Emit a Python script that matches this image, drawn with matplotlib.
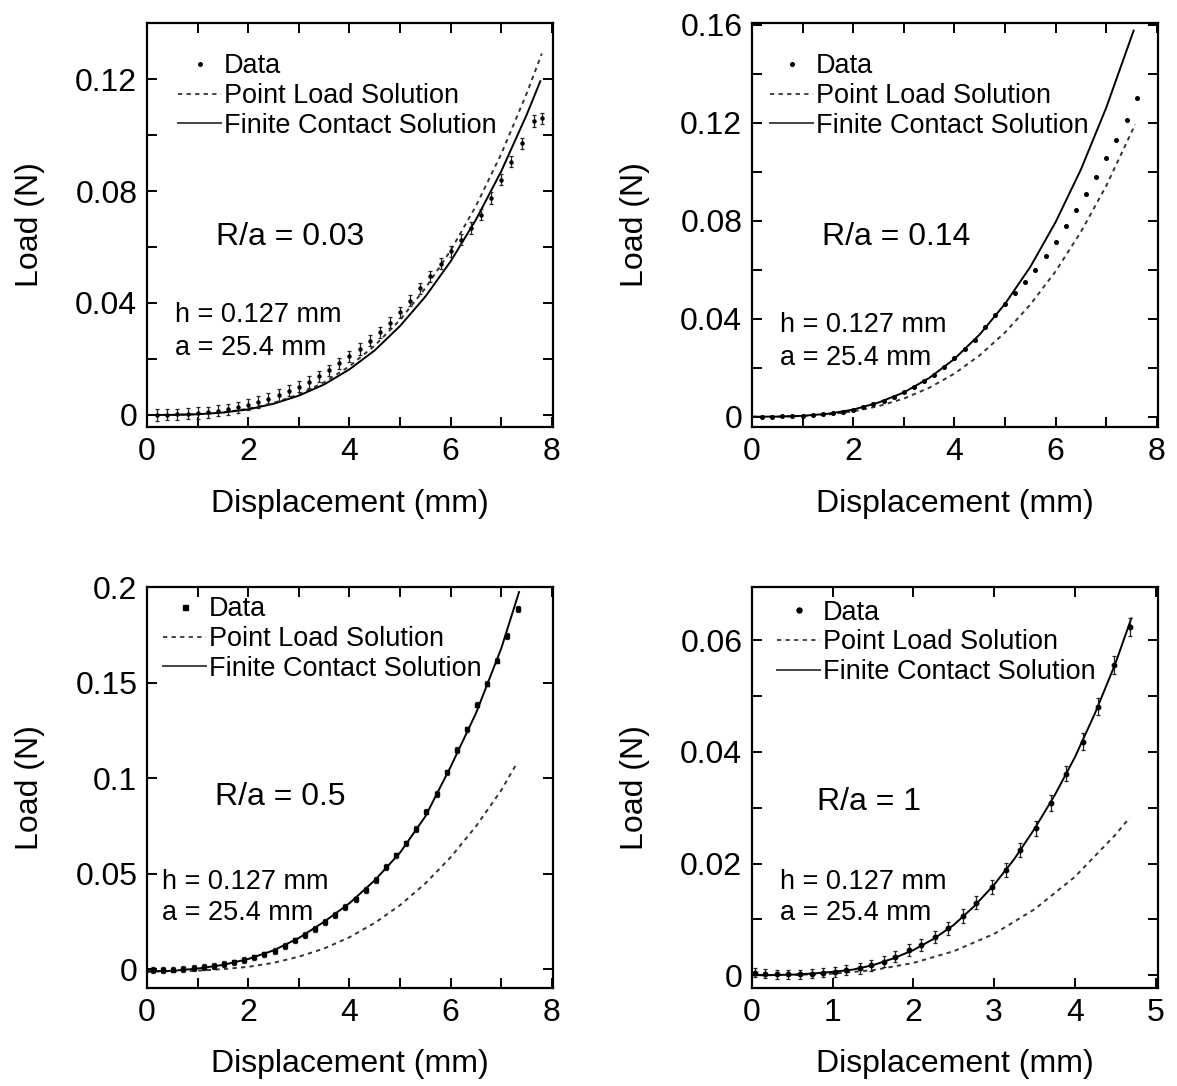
import matplotlib
matplotlib.use("Agg")
import matplotlib.pyplot as plt
from matplotlib.lines import Line2D

plt.rcParams['font.family'] = ['Liberation Sans', 'DejaVu Sans']

# ---- R/a = 0.03 ----
a_data_x = [0.2, 0.4, 0.6, 0.8, 1.0, 1.2, 1.4, 1.6, 1.8, 2.0, 2.2, 2.4, 2.6, 2.8, 3.0,
            3.2, 3.4, 3.6, 3.8, 4.0, 4.2, 4.4, 4.6, 4.8, 5.0, 5.2, 5.4, 5.6, 5.8, 6.0,
            6.2, 6.4, 6.6, 6.8, 7.0, 7.2, 7.4, 7.65, 7.8]
a_data_y = [0.0, 0.0001, 0.0002, 0.0004, 0.0007, 0.0010, 0.0015, 0.0020, 0.0027, 0.0036,
            0.0046, 0.0058, 0.0071, 0.0086, 0.0101, 0.0118, 0.0138, 0.0160, 0.0184, 0.0209,
            0.0236, 0.0265, 0.0296, 0.0330, 0.0367, 0.0408, 0.0452, 0.0495, 0.0540, 0.0584,
            0.0626, 0.0668, 0.0715, 0.0775, 0.0840, 0.0905, 0.0970, 0.1050, 0.1060]
a_err = 0.002
a_fc_x = [0, 0.5, 1, 1.5, 2, 2.5, 3, 3.5, 4, 4.5, 5, 5.5, 6, 6.5, 7, 7.5, 7.77]
a_fc_y = [0, 0.00003, 0.00025, 0.00086, 0.0020, 0.0040, 0.0069, 0.0109, 0.0163, 0.0231,
          0.0318, 0.0423, 0.0549, 0.0698, 0.0871, 0.1072, 0.1192]
a_pl_x = [0, 0.5, 1, 1.5, 2, 2.5, 3, 3.5, 4, 4.5, 5, 5.5, 6, 6.5, 7, 7.5, 7.8]
a_pl_y = [0, 0.00003, 0.00027, 0.00092, 0.0022, 0.0043, 0.0073, 0.0117, 0.0174, 0.0248,
          0.0340, 0.0453, 0.0588, 0.0747, 0.0933, 0.1148, 0.1291]

# ---- R/a = 0.14 ----
b_data_x = [0.2, 0.4, 0.6, 0.8, 1.0, 1.2, 1.4, 1.6, 1.8, 2.0, 2.2, 2.4, 2.6, 2.8, 3.0,
            3.2, 3.4, 3.6, 3.8, 4.0, 4.2, 4.4, 4.6, 4.8, 5.0, 5.2, 5.4, 5.6, 5.8, 6.0,
            6.2, 6.4, 6.6, 6.8, 7.0, 7.2, 7.4, 7.6]
b_data_y = [0.0, 0.0, 0.0001, 0.0002, 0.0004, 0.0006, 0.0010, 0.0015, 0.0021, 0.0029,
            0.0039, 0.0051, 0.0065, 0.0081, 0.0100, 0.0121, 0.0145, 0.0172, 0.0203, 0.0238,
            0.0275, 0.0315, 0.0365, 0.0415, 0.0460, 0.0505, 0.0550, 0.0600, 0.0655, 0.0715,
            0.0780, 0.0845, 0.0910, 0.0980, 0.1055, 0.1130, 0.1210, 0.1300]
b_fc_x = [0, 0.5, 1, 1.5, 2, 2.5, 3, 3.5, 4, 4.5, 5, 5.5, 6, 6.5, 7, 7.54]
b_fc_y = [0, 0.00005, 0.00037, 0.0012, 0.0029, 0.0058, 0.0099, 0.0158, 0.0236, 0.0336,
          0.0461, 0.0612, 0.0795, 0.1010, 0.1262, 0.1576]
b_pl_x = [0, 0.5, 1, 1.5, 2, 2.5, 3, 3.5, 4, 4.5, 5, 5.5, 6, 6.5, 7, 7.57]
b_pl_y = [0, 0.00003, 0.00028, 0.0009, 0.0022, 0.0043, 0.0074, 0.0118, 0.0176, 0.0251,
          0.0344, 0.0458, 0.0594, 0.0755, 0.0943, 0.1193]

# ---- R/a = 0.5 ----
c_data_x = [0.12, 0.32, 0.52, 0.72, 0.92, 1.12, 1.32, 1.52, 1.72, 1.92, 2.12, 2.32, 2.52,
            2.72, 2.92, 3.12, 3.32, 3.52, 3.72, 3.92, 4.12, 4.32, 4.52, 4.72, 4.92, 5.12,
            5.32, 5.52, 5.72, 5.92, 6.12, 6.32, 6.52, 6.72, 6.92, 7.12, 7.32]
c_data_y = [-0.0005, -0.0004, -0.0002, 0.0001, 0.0005, 0.0010, 0.0017, 0.0025, 0.0035,
            0.0047, 0.0061, 0.0077, 0.0095, 0.0120, 0.0150, 0.0180, 0.0212, 0.0248, 0.0285,
            0.0325, 0.0365, 0.0415, 0.0465, 0.0535, 0.0595, 0.0658, 0.0735, 0.0825, 0.0915,
            0.1030, 0.1147, 0.1255, 0.1385, 0.1495, 0.1615, 0.1745, 0.1887]
c_err = 0.0015
c_fc_x = [0, 0.5, 1, 1.5, 2, 2.5, 3, 3.5, 4, 4.5, 5, 5.5, 6, 6.5, 7, 7.35]
c_fc_y = [-0.0012, -0.0009, 0.0003, 0.0022, 0.0053, 0.0098, 0.0163, 0.0248, 0.0345, 0.0465,
          0.0610, 0.0800, 0.1060, 0.1340, 0.1680, 0.1974]
c_pl_x = [0, 0.5, 1, 1.5, 2, 2.5, 3, 3.5, 4, 4.5, 5, 5.5, 6, 6.5, 7, 7.3]
c_pl_y = [-0.0012, -0.0011, -0.0008, 0.0000, 0.0012, 0.0033, 0.0065, 0.0108, 0.0167,
          0.0242, 0.0335, 0.0449, 0.0586, 0.0748, 0.0937, 0.1075]

# ---- R/a = 1 ----
d_data_x = [0.04, 0.16, 0.31, 0.45, 0.59, 0.74, 0.88, 1.03, 1.17, 1.34, 1.48, 1.63, 1.77,
            1.94, 2.10, 2.27, 2.43, 2.62, 2.78, 2.97, 3.15, 3.32, 3.52, 3.71, 3.89, 4.10,
            4.29, 4.49, 4.68]
d_data_y = [0.0004, 0.0003, 0.0002, 0.0002, 0.0002, 0.0003, 0.0004, 0.0006, 0.0009, 0.0012,
            0.0018, 0.0024, 0.0033, 0.0045, 0.0054, 0.0069, 0.0084, 0.0106, 0.0130, 0.0158,
            0.0188, 0.0224, 0.0263, 0.0308, 0.0361, 0.0418, 0.0481, 0.0555, 0.0624]
d_err = [0.0008, 0.0008, 0.0008, 0.0008, 0.0008, 0.0008, 0.0008, 0.0009, 0.0009, 0.0009,
         0.0010, 0.0010, 0.0010, 0.0011, 0.0011, 0.0011, 0.0012, 0.0012, 0.0012, 0.0013,
         0.0013, 0.0013, 0.0014, 0.0014, 0.0014, 0.0015, 0.0015, 0.0016, 0.0016]
d_fc_x = [0, 0.25, 0.5, 0.75, 1.0, 1.25, 1.5, 1.75, 2.0, 2.25, 2.5, 2.75, 3.0, 3.25, 3.5,
          3.75, 4.0, 4.25, 4.5, 4.7]
d_fc_y = [0.0, 0.00002, 0.0001, 0.0003, 0.0006, 0.0010, 0.0018, 0.0030, 0.0045, 0.0065,
          0.0090, 0.0123, 0.0162, 0.0208, 0.0262, 0.0322, 0.0390, 0.0469, 0.0557, 0.0639]
d_pl_x = [0, 0.5, 1, 1.5, 2, 2.5, 3, 3.5, 4, 4.5, 4.68]
d_pl_y = [0, 0.00003, 0.00028, 0.0009, 0.0022, 0.0043, 0.0074, 0.0118, 0.0176, 0.0251, 0.0282]

labels = ["Data", "Point Load Solution", "Finite Contact Solution"]

panels = [
    dict(rect=[0.1249, 0.6068, 0.3449, 0.3720], dx=a_data_x, dy=a_data_y, err=a_err,
         fx=a_fc_x, fy=a_fc_y, px=a_pl_x, py=a_pl_y, marker='o', ms=2.2, lms=2.5,
         xlim=(0, 8.02), ylim=(-0.0043, 0.140),
         xticks=[0, 1, 2, 3, 4, 5, 6, 7, 8], xlabels=['0', '', '2', '', '4', '', '6', '', '8'],
         yticks=[0, 0.02, 0.04, 0.06, 0.08, 0.10, 0.12, 0.14],
         ylabels=['0', '', '0.04', '', '0.08', '', '0.12', ''],
         ratio="R/a = 0.03", rpos=(0.170, 0.471), hpos=(0.069, 0.277), apos=(0.069, 0.196),
         leg=(0.076, 0.925)),
    dict(rect=[0.6389, 0.6068, 0.3449, 0.3720], dx=b_data_x, dy=b_data_y, err=None,
         fx=b_fc_x, fy=b_fc_y, px=b_pl_x, py=b_pl_y, marker='o', ms=2.6, lms=2.6,
         xlim=(0, 8.02), ylim=(-0.0042, 0.1607),
         xticks=[0, 1, 2, 3, 4, 5, 6, 7, 8], xlabels=['0', '', '2', '', '4', '', '6', '', '8'],
         yticks=[0, 0.02, 0.04, 0.06, 0.08, 0.10, 0.12, 0.14, 0.16],
         ylabels=['0', '', '0.04', '', '0.08', '', '0.12', '', '0.16'],
         ratio="R/a = 0.14", rpos=(0.172, 0.471), hpos=(0.069, 0.252), apos=(0.069, 0.170),
         leg=(0.044, 0.925)),
    dict(rect=[0.1249, 0.0902, 0.3449, 0.3692], dx=c_data_x, dy=c_data_y, err=c_err,
         fx=c_fc_x, fy=c_fc_y, px=c_pl_x, py=c_pl_y, marker='s', ms=3.4, lms=3.6,
         xlim=(0, 8.02), ylim=(-0.0099, 0.2),
         xticks=[0, 1, 2, 3, 4, 5, 6, 7, 8], xlabels=['0', '', '2', '', '4', '', '6', '', '8'],
         yticks=[0, 0.05, 0.1, 0.15, 0.2], ylabels=['0', '0.05', '0.1', '0.15', '0.2'],
         ratio="R/a = 0.5", rpos=(0.167, 0.477), hpos=(0.036, 0.265), apos=(0.036, 0.186),
         leg=(0.039, 0.977)),
    dict(rect=[0.6389, 0.0902, 0.3449, 0.3692], dx=d_data_x, dy=d_data_y, err=d_err,
         fx=d_fc_x, fy=d_fc_y, px=d_pl_x, py=d_pl_y, marker='o', ms=3.2, lms=3.6,
         xlim=(0, 5.03), ylim=(-0.0023, 0.0695),
         xticks=[0, 1, 2, 3, 4, 5], xlabels=['0', '1', '2', '3', '4', '5'],
         yticks=[0, 0.01, 0.02, 0.03, 0.04, 0.05, 0.06],
         ylabels=['0', '', '0.02', '', '0.04', '', '0.06'],
         ratio="R/a = 1", rpos=(0.159, 0.465), hpos=(0.069, 0.265), apos=(0.069, 0.186),
         leg=(0.062, 0.969)),
]

fig = plt.figure(figsize=(11.77, 10.86), dpi=100)

for p in panels:
    ax = fig.add_axes(p['rect'])
    if p['err'] is not None:
        ax.errorbar(p['dx'], p['dy'], yerr=p['err'], fmt=p['marker'], ms=p['ms'],
                    color='k', ecolor='#222222', elinewidth=0.9, capsize=1.6, capthick=0.9,
                    zorder=3)
    else:
        ax.plot(p['dx'], p['dy'], ls='none', marker=p['marker'], ms=p['ms'], color='k', zorder=3)
    ax.plot(p['px'], p['py'], ls=(0, (2.2, 2.2)), color='#333333', lw=1.4)
    ax.plot(p['fx'], p['fy'], ls='-', color='k', lw=1.4)

    ax.set_xlim(*p['xlim'])
    ax.set_ylim(*p['ylim'])
    ax.set_xticks(p['xticks'])
    ax.set_xticklabels(p['xlabels'])
    ax.set_yticks(p['yticks'])
    ax.set_yticklabels(p['ylabels'])
    ax.tick_params(direction='in', length=7, width=1.4, top=True, right=True,
                   labelsize=23, pad=7)
    for s in ax.spines.values():
        s.set_linewidth(1.6)

    ax.set_xlabel("Displacement (mm)", fontsize=23, va='center')
    ax.xaxis.set_label_coords(0.5, -0.19)
    ax.set_ylabel("Load (N)", fontsize=23, va='center')
    ax.yaxis.set_label_coords(-0.288, 0.5)

    ax.text(p['rpos'][0], p['rpos'][1], p['ratio'], transform=ax.transAxes,
            fontsize=23, va='center', ha='left')
    ax.text(p['hpos'][0], p['hpos'][1], "h = 0.127 mm", transform=ax.transAxes,
            fontsize=19.5, va='center', ha='left')
    ax.text(p['apos'][0], p['apos'][1], "a = 25.4 mm", transform=ax.transAxes,
            fontsize=19.5, va='center', ha='left')

    handles = [
        Line2D([], [], ls='none', marker=p['marker'], ms=p['lms'], color='k'),
        Line2D([], [], ls=(0, (2.2, 2.2)), color='#444444', lw=1.4),
        Line2D([], [], ls='-', color='#444444', lw=1.4),
    ]
    ax.legend(handles, labels, loc='upper left', bbox_to_anchor=p['leg'], frameon=False,
              fontsize=19.5, borderpad=0, borderaxespad=0, handlelength=1.6,
              handletextpad=0.1, labelspacing=0.14)

fig.savefig("out.png", dpi=100)
